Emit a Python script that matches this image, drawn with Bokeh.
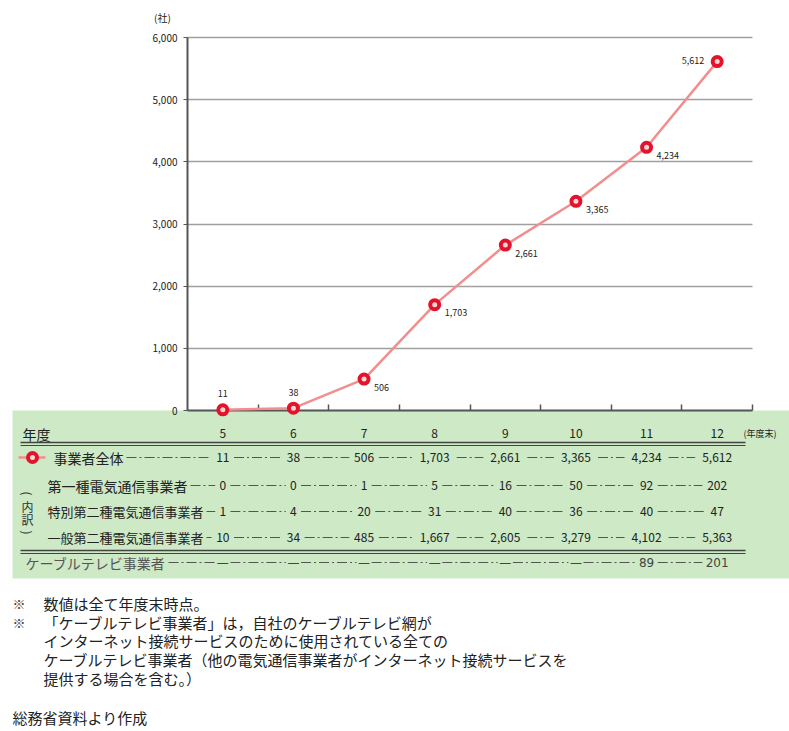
import math
from bokeh.plotting import figure
from bokeh.models import Range1d, LinearAxis, FixedTicker, NumeralTickFormatter, Grid, ColumnDataSource
from bokeh.core.properties import value
from bokeh.embed import file_html
from bokeh.resources import INLINE

# ---------------- data ----------------
years = ["5", "6", "7", "8", "9", "10", "11", "12"]
total = [11, 38, 506, 1703, 2661, 3365, 4234, 5612]
type1 = [0, 0, 1, 5, 16, 50, 92, 202]
special2 = [1, 4, 20, 31, 40, 36, 40, 47]
general2 = [10, 34, 485, 1667, 2605, 3279, 4102, 5363]
cable = [None, None, None, None, None, None, 89, 201]
y_ticks = [0, 1000, 2000, 3000, 4000, 5000, 6000]
y_unit = "(社)"
x_unit = "(年度末)"
header_label = "年度"
row_labels = ["事業者全体", "第一種電気通信事業者", "特別第二種電気通信事業者", "一般第二種電気通信事業者"]
cable_label = "ケーブルテレビ事業者"
breakdown_chars = ["(", "内", "訳", ")"]
note_marks = ["※", "※", "", "", ""]
note_lines = [
    "数値は全て年度末時点。",
    "「ケーブルテレビ事業者」は，自社のケーブルテレビ網が",
    "インターネット接続サービスのために使用されている全ての",
    "ケーブルテレビ事業者（他の電気通信事業者がインターネット接続サービスを",
    "提供する場合を含む。）",
]
source_note = "総務省資料より作成"

# ---------------- layout / style ----------------
W, H = 789, 731
PL, PR, PT, PB = 187, 752, 37, 410
n = len(years)
ymax = y_ticks[-1]
cat_px = (PR - PL) / n
JP = value("Noto Sans CJK JP")
INK = "#222222"
GREEN = "#cde9c6"
RED = "#e3132b"
PINK = "#f28e8e"

p = figure(width=W, height=H,
           x_range=Range1d(-PL / cat_px, (W - PL) / cat_px),
           y_range=Range1d((PB - H) / (PB - PT) * ymax, PB / (PB - PT) * ymax),
           x_axis_type=None, y_axis_type=None,
           output_backend="svg", toolbar_location=None, min_border=0)
p.min_border_left = p.min_border_right = p.min_border_top = p.min_border_bottom = 0
if p.title is not None:
    p.title.visible = False
p.outline_line_color = None
p.background_fill_color = "white"
p.border_fill_color = "white"
p.extra_x_ranges = {"px": Range1d(0, W)}
p.extra_y_ranges = {"px": Range1d(H, 0)}

xc = [i + 0.5 for i in range(n)]
def cpx(i):
    return PL + (i + 0.5) * cat_px

# green table background
p.quad(left=[12], right=[W], top=[PB], bottom=[578], x_range_name="px", y_range_name="px",
       fill_color=GREEN, line_color=None)

# grid lines
if "cross_bounds" in Grid.properties():
    g = Grid(dimension=1, ticker=FixedTicker(ticks=y_ticks[1:]), cross_bounds=(0, n),
             grid_line_color="#a0a0a0", grid_line_width=1.5)
    p.add_layout(g)
else:
    p.segment(x0=[0] * (len(y_ticks) - 1), x1=[n] * (len(y_ticks) - 1),
              y0=y_ticks[1:], y1=y_ticks[1:], line_color="#a0a0a0", line_width=1.5)

# axes
yax = LinearAxis(fixed_location=0, ticker=FixedTicker(ticks=y_ticks),
                 formatter=NumeralTickFormatter(format="0,0"), bounds=(0, ymax))
yax.axis_line_color = "#555555"
yax.axis_line_width = 2
yax.major_tick_line_color = "#555555"
yax.major_tick_out = 4
yax.major_tick_in = 0
yax.minor_tick_line_color = None
yax.major_label_text_font = "Noto Sans CJK JP"
yax.major_label_text_font_size = "10px"
yax.major_label_text_color = INK
yax.major_label_standoff = 6
p.add_layout(yax, "left")

xax = LinearAxis(fixed_location=0, ticker=FixedTicker(ticks=list(range(1, n + 1))), bounds=(0, n))
xax.axis_line_color = "#555555"
xax.axis_line_width = 2
xax.major_tick_line_color = "#555555"
xax.major_tick_line_width = 1.5
xax.major_tick_in = 6
xax.major_tick_out = 0
xax.minor_tick_line_color = None
xax.major_label_text_color = None
p.add_layout(xax, "below")

# series
p.line(xc, total, line_color=PINK, line_width=2.5, level="overlay")
p.scatter(xc, total, size=9, line_color=RED, line_width=4, fill_color="#ffd6d6", level="overlay")

# data labels
lx_off, ly_off, lalign = [], [], []
for i in range(n):
    if i < 2:
        lx_off.append(0); ly_off.append(-16); lalign.append("center")
    elif i == n - 1:
        lx_off.append(-13); ly_off.append(-1); lalign.append("right")
    else:
        lx_off.append(10); ly_off.append(8); lalign.append("left")
lab_src = ColumnDataSource(dict(x=xc, y=total, t=[f"{v:,}" for v in total],
                                xo=lx_off, yo=ly_off, al=lalign))
p.text(x="x", y="y", text="t", x_offset="xo", y_offset="yo", text_align="al",
       text_baseline="middle", text_font=JP, text_font_size="9px", text_color=INK,
       source=lab_src, level="overlay")

def txt(x, y, s, size, align="left", color=INK, xr="px", yr="px", baseline="middle", angle=0.0):
    p.text(x=[x], y=[y], text=[s], x_range_name=xr, y_range_name=yr,
           text_font=JP, text_font_size=size, text_align=align,
           text_baseline=baseline, text_color=color, angle=angle)

# unit label
txt(162, 17, y_unit, "10px", align="center")

# ---------------- table ----------------
HY = 433
ROW_Y = [457, 485, 511, 537]
CY = 562
p.text(x=xc, y=[HY] * n, text=years, y_range_name="px", text_font=JP, text_font_size="12px",
       text_align="center", text_baseline="middle", text_color=INK)
txt(22, HY, header_label, "14px")
txt(743, HY, x_unit, "9px")

for yy in (442, 445, 550, 553):
    p.line([20, 745], [yy, yy], x_range_name="px", y_range_name="px",
           line_color="#444444", line_width=1.3 if yy in (442, 550) else 1)

def hw(s, fs=12):
    return len(s) * fs * 0.3 + 4

def table_row(y, label, lx, lfs, vals, color=INK, vcolor=INK, vfont=JP):
    txt(lx, y, label, f"{lfs}px", color=color)
    lend = lx + len(label) * lfs + 3
    x0 = [lend] + [cpx(i) + hw(vals[i]) for i in range(n - 1)]
    x1 = [cpx(0) - hw(vals[0])] + [cpx(i + 1) - hw(vals[i + 1]) for i in range(n - 1)]
    p.segment(x0=x0, x1=x1, y0=[y] * n, y1=[y] * n, x_range_name="px", y_range_name="px",
              line_color="#555555", line_width=1, line_dash="10 3 2 3")
    p.text(x=xc, y=[y] * n, text=vals, y_range_name="px", text_font=vfont, text_font_size="12px",
           text_align="center", text_baseline="middle", text_color=vcolor)

series = [total, type1, special2, general2]
label_x = [53, 47, 47, 47]
label_fs = [14, 14, 13, 13]
for r in range(4):
    table_row(ROW_Y[r], row_labels[r], label_x[r], label_fs[r], [f"{v:,}" for v in series[r]])

cable_vals = ["—" if v is None else f"{v:,}" for v in cable]
table_row(CY, cable_label, 25, 14, cable_vals, color="#555555", vcolor="#444444",
          vfont=value("DejaVu Sans"))

# legend marker in first row
p.line([18, 45], [ROW_Y[0], ROW_Y[0]], x_range_name="px", y_range_name="px",
       line_color=PINK, line_width=2.5)
p.scatter([32], [ROW_Y[0]], x_range_name="px", y_range_name="px", size=9,
          line_color=RED, line_width=4, fill_color="#ffd6d6")

# vertical (内訳)
bk_y = [493, 506, 519, 532]
for k, ch in enumerate(breakdown_chars):
    ang = -math.pi / 2 if ch in "()" else 0.0
    txt(27, bk_y[k], ch, "12px", align="center", color="#333333", angle=ang)

# ---------------- notes ----------------
NOTE_Y = [603, 622, 640, 659, 678]
for k in range(len(note_lines)):
    if note_marks[k]:
        txt(12, NOTE_Y[k], note_marks[k], "13px", color="#444444")
    txt(43, NOTE_Y[k], note_lines[k], "15px")
txt(12, 717, source_note, "15px")

open("out.html", "w").write(file_html(p, INLINE))
